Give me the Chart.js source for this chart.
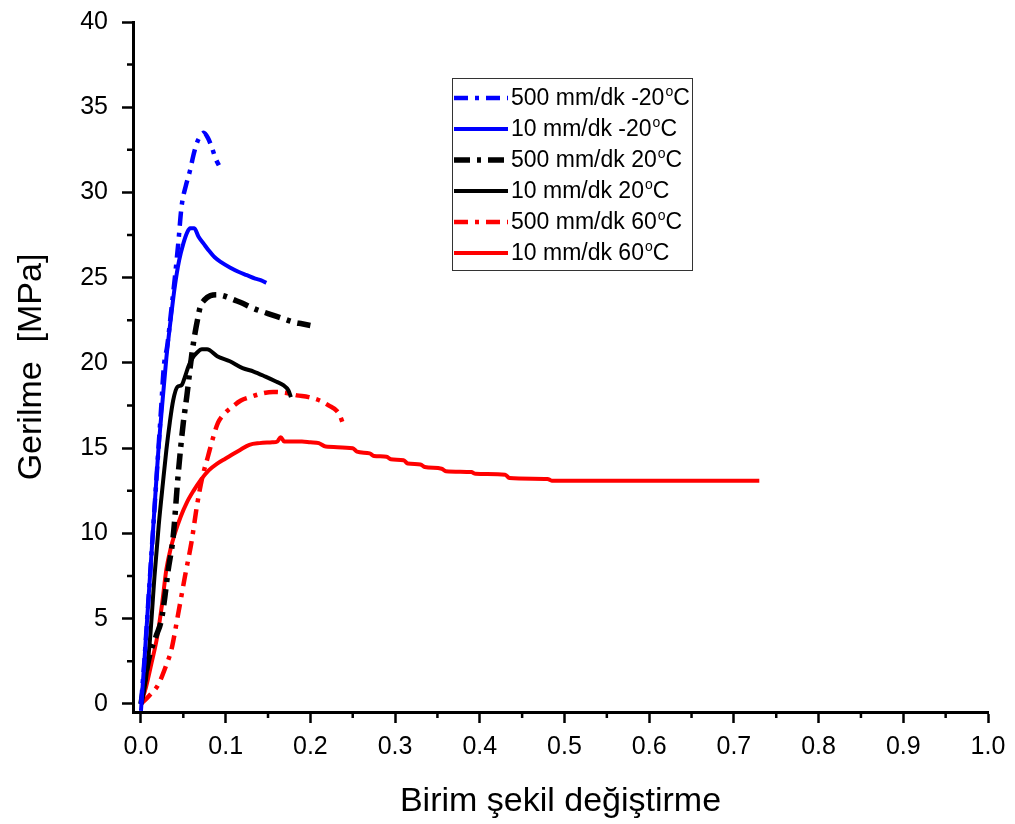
<!DOCTYPE html>
<html>
<head>
<meta charset="utf-8">
<script src="https://cdn.jsdelivr.net/npm/chart.js@4.4.1/dist/chart.umd.min.js"></script>
<style>
  html, body { margin: 0; padding: 0; background: #fff; }
  #wrap { width: 1015px; height: 824px; }
</style>
</head>
<body>
<div id="wrap"><canvas id="tensile" width="1015" height="824"></canvas></div>
<script>
// tick values
const xTicks = [0, 0.1, 0.2, 0.3, 0.4, 0.5, 0.6, 0.7, 0.8, 0.9, 1.0];
const yTicks = [0, 5, 10, 15, 20, 25, 30, 35, 40];
const xMinorTicks = [0.05, 0.15, 0.25, 0.35, 0.45, 0.55, 0.65, 0.75, 0.85, 0.95];
const yMinorTicks = [2.5, 7.5, 12.5, 17.5, 22.5, 27.5, 32.5, 37.5];

// legend text
const rates = ['500 mm/dk', '10 mm/dk', '500 mm/dk', '10 mm/dk', '500 mm/dk', '10 mm/dk'];
const temps = ['-20', '-20', '20', '20', '60', '60'];

// [strain, stress MPa]
const fast_m20 = [[0, 0], [0.004, 2.5], [0.008, 5.5], [0.012, 8.5], [0.016, 11.5], [0.02, 14.5],
  [0.024, 17.5], [0.027, 19.8], [0.031, 21], [0.036, 23.2], [0.04, 25], [0.044, 27], [0.048, 29.2],
  [0.053, 30.4], [0.058, 31.3], [0.062, 32.2], [0.066, 32.9], [0.07, 33.3], [0.074, 33.5],
  [0.079, 33.2], [0.084, 32.6], [0.088, 32], [0.092, 31.6]];

const slow_m20 = [[0, -0.4], [0.004, 2.5], [0.008, 5.5], [0.012, 8.5], [0.016, 11.5], [0.02, 14.5],
  [0.025, 17.5], [0.03, 20.3], [0.035, 22.5], [0.04, 24.5], [0.045, 26], [0.05, 27], [0.055, 27.7],
  [0.058, 27.9], [0.063, 27.9], [0.068, 27.4], [0.074, 27], [0.08, 26.6], [0.087, 26.2],
  [0.095, 25.9], [0.105, 25.6], [0.115, 25.35], [0.125, 25.15], [0.135, 24.95], [0.142, 24.85],
  [0.148, 24.7]];

const fast_20 = [[0, 0], [0.006, 1.8], [0.011, 3.0], [0.018, 4.0], [0.024, 4.9], [0.028, 6.2],
  [0.032, 7.8], [0.038, 9.8], [0.044, 13.5], [0.05, 16.5], [0.054, 18], [0.06, 20.5], [0.064, 21.8],
  [0.067, 22.6], [0.07, 23.3], [0.075, 23.7], [0.082, 23.95], [0.09, 24.0], [0.1, 23.9],
  [0.11, 23.7], [0.12, 23.5], [0.133, 23.2], [0.15, 22.9], [0.165, 22.65], [0.18, 22.4],
  [0.19, 22.3], [0.2, 22.2]];

const slow_20 = [[0, 0], [0.006, 1.5], [0.011, 4], [0.016, 7.5], [0.021, 10.5], [0.026, 13],
  [0.03, 14.9], [0.034, 16.5], [0.038, 17.8], [0.043, 18.6], [0.048, 18.7], [0.052, 19.2],
  [0.056, 19.8], [0.061, 20.3], [0.066, 20.6], [0.072, 20.8], [0.078, 20.8], [0.09, 20.4],
  [0.105, 20.1], [0.12, 19.7], [0.133, 19.5], [0.147, 19.2], [0.16, 18.9], [0.168, 18.7],
  [0.174, 18.4], [0.177, 18.0]];

const fast_60 = [[0, 0], [0.01, 0.5], [0.02, 1.1], [0.03, 2.3], [0.036, 3.2], [0.044, 5.3],
  [0.052, 7.5], [0.06, 9.6], [0.066, 11.6], [0.072, 13.2], [0.079, 14.5], [0.085, 15.6],
  [0.091, 16.5], [0.1, 17.1], [0.107, 17.4], [0.118, 17.8], [0.129, 18.0], [0.142, 18.2],
  [0.156, 18.3], [0.17, 18.25], [0.184, 18.1], [0.198, 18.0], [0.211, 17.8], [0.222, 17.5],
  [0.231, 17.2], [0.235, 16.9], [0.238, 16.5]];

const slow_60 = [[0, 0], [0.006, 1], [0.012, 2.3], [0.019, 3.9], [0.025, 5.9], [0.03, 7.9],
  [0.035, 9.1], [0.04, 10.0], [0.047, 11], [0.054, 11.8], [0.062, 12.5], [0.07, 13.1], [0.08, 13.7],
  [0.09, 14.1], [0.1, 14.4], [0.117, 14.9], [0.128, 15.2], [0.14, 15.3], [0.155, 15.35],
  [0.161, 15.4], [0.165, 15.65], [0.169, 15.4], [0.19, 15.4], [0.2, 15.35], [0.21, 15.3],
  [0.218, 15.1], [0.25, 15.0], [0.255, 14.8], [0.27, 14.7], [0.275, 14.55], [0.29, 14.5],
  [0.295, 14.35], [0.31, 14.3], [0.315, 14.1], [0.33, 14.05], [0.335, 13.9], [0.355, 13.8],
  [0.36, 13.65], [0.39, 13.6], [0.395, 13.5], [0.43, 13.45], [0.435, 13.25], [0.48, 13.2],
  [0.485, 13.1], [0.73, 13.1]];

const FONT = "'Liberation Sans', Arial, sans-serif";
Chart.defaults.font.family = FONT;
Chart.defaults.color = '#000';

const DASH_DOT = [14, 7, 4, 7];

function series(points, color, width, dash) {
    return {
        data: points,
        borderColor: color,
        backgroundColor: color,
        borderWidth: width,
        borderDash: dash,
        borderCapStyle: 'butt',
        pointRadius: 0,
        fill: false,
        cubicInterpolationMode: 'monotone'
    };
}

const minorTicks = {
    id: 'minorTicks',
    afterDraw(chart) {
        const { ctx, chartArea } = chart;
        const xs = chart.scales.x, ys = chart.scales.y;
        ctx.save();
        ctx.strokeStyle = '#000';
        ctx.lineWidth = 2.5;
        ctx.beginPath();
        xMinorTicks.forEach((v) => {
            const px = xs.getPixelForValue(v);
            ctx.moveTo(px, chartArea.bottom);
            ctx.lineTo(px, chartArea.bottom + 6);
        });
        yMinorTicks.forEach((v) => {
            const py = ys.getPixelForValue(v);
            ctx.moveTo(chartArea.left, py);
            ctx.lineTo(chartArea.left - 6, py);
        });
        ctx.stroke();
        ctx.restore();
    }
};

const legendBox = {
    id: 'legendBox',
    afterDraw(chart) {
        const ctx = chart.ctx;
        ctx.save();
        ctx.strokeStyle = '#333';
        ctx.lineWidth = 1;
        ctx.strokeRect(452.5, 78.5, 240, 192);
        chart.data.datasets.forEach((ds, i) => {
            const y = 98 + i * 31;
            ctx.beginPath();
            ctx.setLineDash(ds.borderDash || []);
            ctx.lineWidth = ds.borderWidth;
            ctx.strokeStyle = ds.borderColor;
            ctx.moveTo(454, y);
            ctx.lineTo(508, y);
            ctx.stroke();
            ctx.setLineDash([]);

            ctx.fillStyle = '#000';
            ctx.textBaseline = 'middle';
            ctx.textAlign = 'left';
            ctx.font = '23px ' + FONT;
            const main = rates[i] + ' ' + temps[i];
            ctx.fillText(main, 511, y + 1);
            let x = 511 + ctx.measureText(main).width + 1;
            ctx.font = '14px ' + FONT;
            ctx.fillText('o', x, y - 6);
            x += ctx.measureText('o').width;
            ctx.font = '23px ' + FONT;
            ctx.fillText('C', x, y + 1);
        });
        ctx.restore();
    }
};

new Chart(document.getElementById('tensile'), {
    type: 'line',
    data: {
        datasets: [
            series(fast_m20, '#0000ff', 4.5, DASH_DOT),
            series(slow_m20, '#0000ff', 4, []),
            series(fast_20, '#000000', 5.5, [16, 7, 4, 7]),
            series(slow_20, '#000000', 4, []),
            series(fast_60, '#ff0000', 4.5, DASH_DOT),
            series(slow_60, '#ff0000', 4, [])
        ]
    },
    options: {
        responsive: false,
        animation: false,
        layout: { padding: { left: 0, right: 27, top: 22, bottom: 0 } },
        plugins: {
            legend: { display: false },
            tooltip: { enabled: false }
        },
        scales: {
            x: {
                type: 'linear',
                min: -0.0094,
                max: 1.0,
                afterBuildTicks: (s) => { s.ticks = xTicks.map((v) => ({ value: v })); },
                afterFit: (s) => { s.height = 112; s.paddingLeft = 0; s.paddingRight = 10; },
                grid: { drawOnChartArea: false, drawTicks: true, tickLength: 11, tickWidth: 2.5, tickColor: '#000' },
                border: { display: true, color: '#000', width: 3 },
                ticks: {
                    color: '#000',
                    font: { size: 25 },
                    padding: 9,
                    maxRotation: 0,
                    autoSkip: false,
                    callback: (v) => Number(v).toFixed(1)
                },
                title: {
                    display: true,
                    text: 'Birim şekil değiştirme',
                    color: '#000',
                    font: { size: 34 },
                    padding: { top: 0, bottom: 2 }
                }
            },
            y: {
                type: 'linear',
                min: -0.47,
                max: 40,
                afterBuildTicks: (s) => { s.ticks = yTicks.map((v) => ({ value: v })); },
                afterFit: (s) => { s.width = 133; s.paddingTop = 10; s.paddingBottom = 0; },
                grid: { drawOnChartArea: false, drawTicks: true, tickLength: 11, tickWidth: 2.5, tickColor: '#000' },
                border: { display: true, color: '#000', width: 3 },
                ticks: {
                    color: '#000',
                    font: { size: 25 },
                    padding: 14,
                    autoSkip: false,
                    callback: (v) => String(v)
                },
                title: {
                    display: true,
                    text: 'Gerilme  [MPa]',
                    color: '#000',
                    font: { size: 34 },
                    padding: { top: 11, bottom: 0 }
                }
            }
        }
    },
    plugins: [minorTicks, legendBox]
});
</script>
</body>
</html>
